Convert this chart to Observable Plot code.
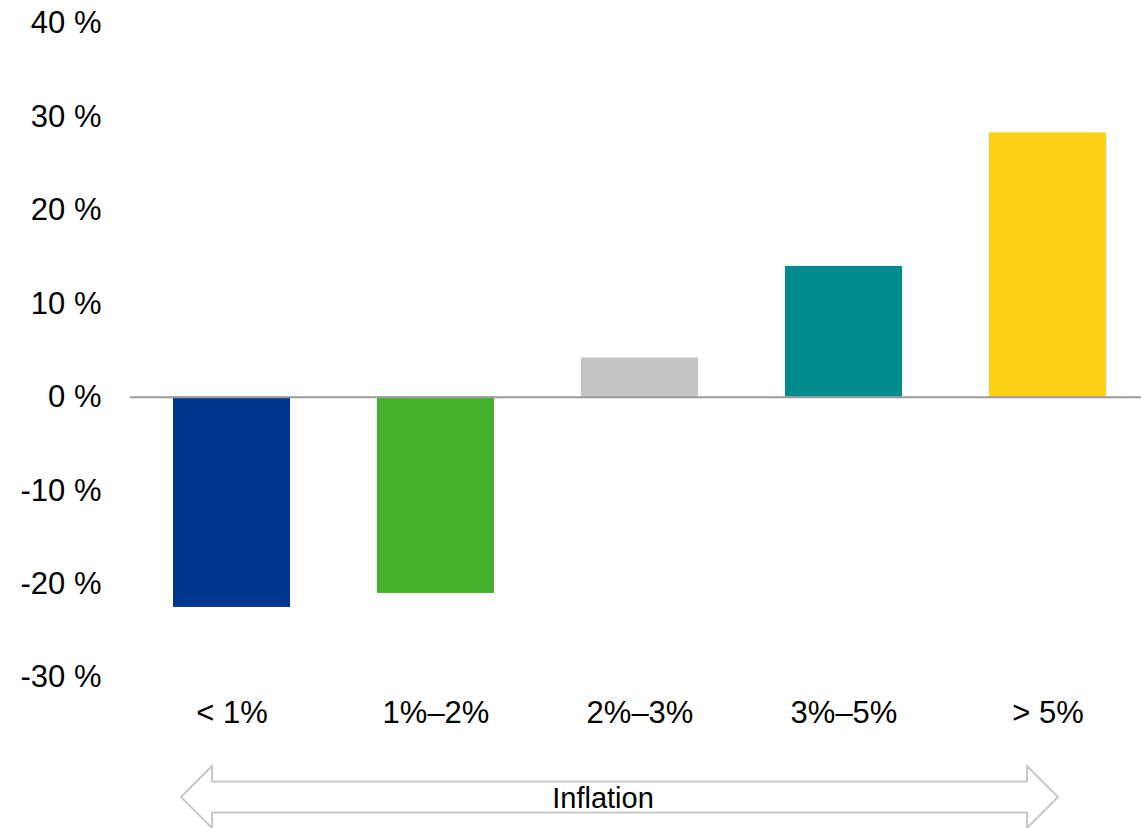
<!DOCTYPE html>
<html>
<head>
<meta charset="utf-8">
<script src="https://cdn.jsdelivr.net/npm/d3@7"></script>
<script src="https://cdn.jsdelivr.net/npm/@observablehq/plot@0.6"></script>
<style>
  html, body { margin: 0; padding: 0; background: #fff; }
  #chart { position: relative; width: 1141px; height: 828px; overflow: hidden; }
  #chart svg { font-family: "Liberation Sans", Arial, sans-serif; }
</style>
</head>
<body>
<div id="chart"></div>
<script>
const categories = ["< 1%", "1%–2%", "2%–3%", "3%–5%", "> 5%"];
const values = [-22.5, -21.0, 4.2, 14.0, 28.3];
const colors = ["#00358e", "#44b02b", "#c4c4c4", "#008c8f", "#fdd016"];
const yTicks = [-30, -20, -10, 0, 10, 20, 30, 40];
const axisLabel = "Inflation";

const data = categories.map((c, i) => ({ cat: c, value: values[i], color: colors[i] }));

const W = 1141, H = 828;
const plot = Plot.plot({
  width: W,
  height: H,
  marginTop: 23,
  marginBottom: 151,
  marginLeft: 130,
  marginRight: 0,
  style: { fontFamily: "'Liberation Sans', Arial, sans-serif", background: "#fff" },
  x: { domain: categories, range: [152.5, 1126.5], paddingInner: 0.4265, paddingOuter: 0.1, label: null },
  y: { domain: [-30, 40], label: null },
  marks: [
    Plot.barY(data, { x: "cat", y: "value", fill: "color" }),
    Plot.ruleY([0], { stroke: "#999999", strokeWidth: 2 }),
    Plot.axisY({ ticks: yTicks, tickSize: 0, tickPadding: 29, tickFormat: d => `${d} %`, fontSize: 31, fill: "#000", label: null }),
    Plot.axisX({ tickSize: 0, tickPadding: 23, fontSize: 31, fill: "#000", label: null })
  ]
});
document.getElementById("chart").appendChild(plot);

// Double-headed outlined arrow annotation below the axis
const svg = d3.select(plot);
const xL = 181, xR = 1058, yMid = 797, head = 31, shaft = 15.5, hw = 31;
const pts = [
  [xL, yMid], [xL + hw, yMid - head], [xL + hw, yMid - shaft], [xR - hw, yMid - shaft],
  [xR - hw, yMid - head], [xR, yMid], [xR - hw, yMid + head], [xR - hw, yMid + shaft],
  [xL + hw, yMid + shaft], [xL + hw, yMid + head]
];
svg.append("path")
  .attr("d", "M" + pts.map(p => p.join(",")).join("L") + "Z")
  .attr("fill", "none")
  .attr("stroke", "#c8c8c8")
  .attr("stroke-width", 2);
svg.append("text")
  .attr("x", 603)
  .attr("y", 808)
  .attr("text-anchor", "middle")
  .attr("font-size", 29)
  .attr("fill", "#000")
  .text(axisLabel);
</script>
</body>
</html>
